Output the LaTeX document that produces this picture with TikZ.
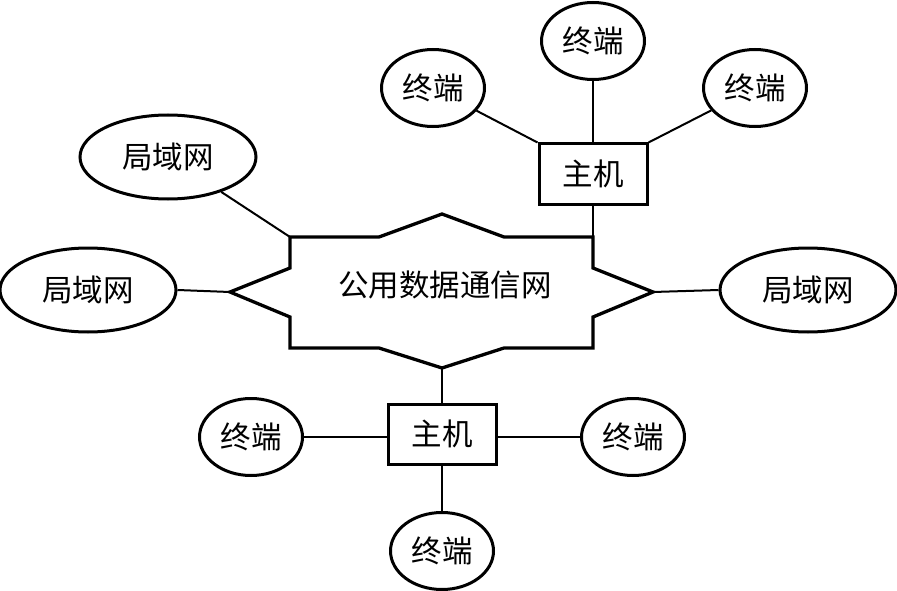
\documentclass[tikz,border=0pt]{standalone}
\usepackage{fontspec}
\usetikzlibrary{shapes.geometric}
\newfontfamily\cjk{Noto Sans CJK SC}
\begin{document}
\begin{tikzpicture}[x=1pt,y=-1pt,
  lbl/.style={font=\cjk\fontsize{30.5}{32}\selectfont},
  oval/.style={lbl,draw,ellipse,line width=3pt,inner sep=0pt},
  term/.style={oval,minimum width=103pt,minimum height=77pt},
  lan/.style={oval,minimum width=176pt,minimum height=84pt},
  host/.style={lbl,draw,rectangle,line width=3pt,minimum width=108pt,minimum height=60pt,inner sep=0pt},
  link/.style={line width=2pt}]
\useasboundingbox (0,0) rectangle (897,591);
% central network shape
\coordinate (tl) at (290,237);
\coordinate (tr) at (593,237);
\coordinate (lt) at (230,292);
\coordinate (rt) at (653,292);
\coordinate (bp) at (442,368);
\draw[line width=3.3pt,line join=miter]
  (tl) -- (379,237) -- (442,214) -- (504,237) -- (tr)
  -- (593,268) -- (rt) -- (593,317) -- (593,348)
  -- (504,348) -- (bp) -- (379,348) -- (290,348)
  -- (290,317) -- (lt) -- (290,268) -- cycle;
\node[lbl] (net) at (445,285) {公用数据通信网};
% top host cluster
\node[host] (h1) at (593,174) {主机};
\node[term] (t1) at (433,88) {终端};
\node[term] (t2) at (593,41) {终端};
\node[term] (t3) at (755,88) {终端};
% bottom host cluster
\node[host] (h2) at (442,434) {主机};
\node[term] (b1) at (251,437) {终端};
\node[term] (b2) at (633,437) {终端};
\node[term] (b3) at (442,551) {终端};
% LANs
\node[lan] (lan1) at (168,157) {局域网};
\node[lan] (lan2) at (88,290) {局域网};
\node[lan] (lan3) at (808,290) {局域网};
% connectors
\draw[link] (t1) -- (h1.north west);
\draw[link] (t2) -- (h1.north);
\draw[link] (t3) -- (h1.north east);
\draw[link] (h1.south) -- (tr);
\draw[link] (bp) -- (h2.north);
\draw[link] (b1.east) -- (b1.east -| h2.west);
\draw[link] (b2.west) -- (b2.west -| h2.east);
\draw[link] (h2.south) -- (b3.north);
\draw[link] (lan1) -- (tl);
\draw[link] (lan2.east) -- (lt);
\draw[link] (rt) -- (lan3.west);
\end{tikzpicture}
\end{document}
